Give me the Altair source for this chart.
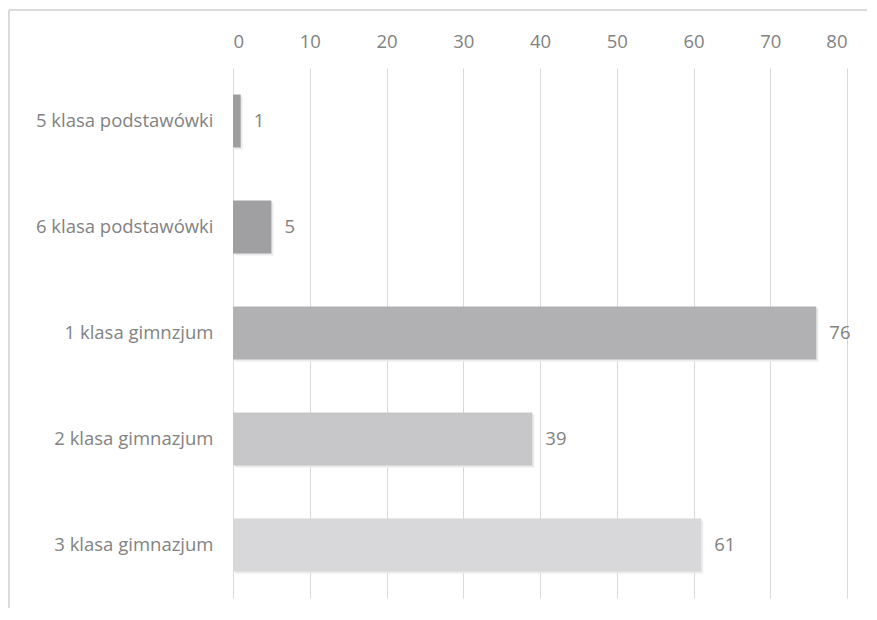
import altair as alt
import pandas as pd

categories = ["5 klasa podstawówki", "6 klasa podstawówki", "1 klasa gimnzjum",
              "2 klasa gimnazjum", "3 klasa gimnazjum"]
values = [1, 5, 76, 39, 61]
colors = ["#9e9ea1", "#a0a0a3", "#b1b1b4", "#c7c7c9", "#d8d8da"]
ticks = [0, 10, 20, 30, 40, 50, 60, 70, 80]

df = pd.DataFrame({"cat": categories, "val": values, "color": colors})

FONT = "Open Sans"
FS = 18.5
W, H = 614, 530

x = alt.X("val:Q", scale=alt.Scale(domain=[0, 80], nice=False),
          axis=alt.Axis(orient="top", values=ticks, title=None, grid=True,
                        gridColor="#d9d9d9", gridWidth=1, domain=False, ticks=False,
                        labelFont=FONT, labelFontSize=FS, labelColor="#828282",
                        labelPadding=17))
y = alt.Y("cat:N", sort=categories,
          scale=alt.Scale(paddingInner=0.5, paddingOuter=0.25),
          axis=alt.Axis(title=None, domain=False, ticks=False, labelFont=FONT,
                        labelFontSize=FS, labelColor="#828282", labelPadding=20,
                        labelLimit=400))

shadow = alt.Chart(df).mark_bar(color="#ebebeb", xOffset=2, yOffset=2).encode(
    x=x, y=y)
bars = alt.Chart(df).mark_bar().encode(
    x=x, y=y, color=alt.Color("color:N", scale=None))
text = alt.Chart(df).mark_text(align="left", baseline="middle", dx=13,
                               font=FONT, fontSize=FS, color="#828282").encode(
    x="val:Q", y=alt.Y("cat:N", sort=categories), text="val:Q")

border_left = alt.Chart(df).mark_rule(color="#d9d9d9", strokeWidth=1).encode(
    x=alt.value(-224), y=alt.value(-58), y2=alt.value(545))
border_top = alt.Chart(df).mark_rule(color="#d9d9d9", strokeWidth=1).encode(
    x=alt.value(-224), x2=alt.value(640), y=alt.value(-58))

chart = alt.layer(border_left, border_top, shadow, bars, text).properties(
    width=W, height=H,
    autosize=alt.AutoSizeParams(type="none"),
    padding={"left": 225, "top": 60, "right": 20, "bottom": 10},
).configure(background="white", view=alt.ViewConfig(stroke=None))

chart.save("out.html", embed_options={"renderer": "svg", "actions": False})
